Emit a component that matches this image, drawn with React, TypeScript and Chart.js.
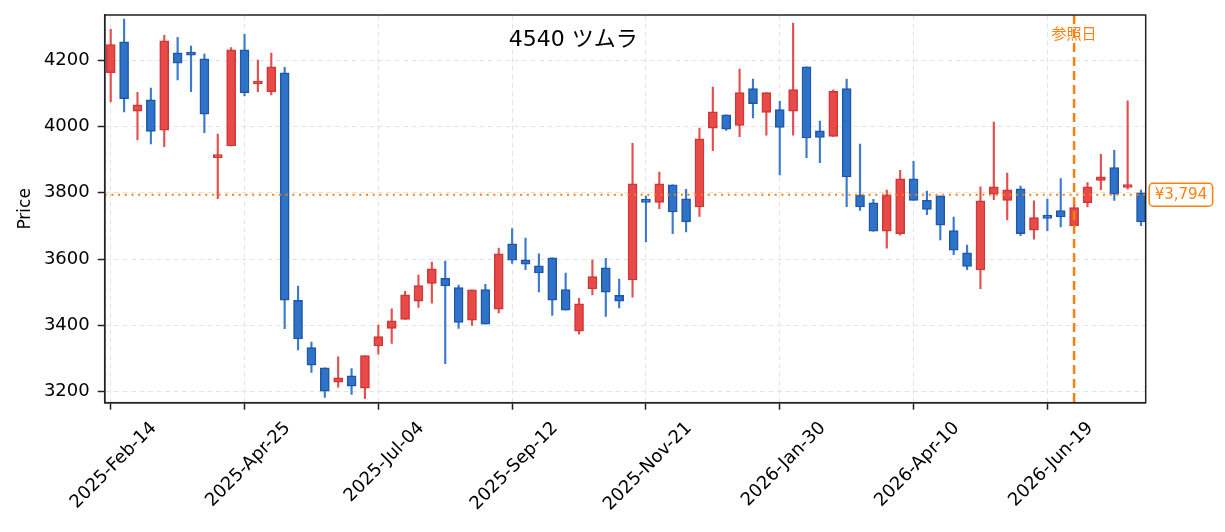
import { useEffect, useRef } from 'react';
import { Chart, registerables } from 'chart.js';

Chart.register(...registerables);

// weekly candles, index 0 = 2025-02-14
const opens = [
  4162, 4255, 4046, 4080, 3989, 4222, 4218, 4204, 3906, 3941,
  4231, 4128, 4104, 4162, 3476, 3333, 3272, 3229, 3248, 3211,
  3338, 3391, 3418, 3473, 3527, 3542, 3514, 3416, 3508, 3449,
  3646, 3598, 3580, 3604, 3508, 3383, 3510, 3574, 3491, 3537,
  3776, 3771, 3824, 3782, 3757, 3995, 4035, 4003, 4114, 4042,
  4051, 4046, 4180, 3987, 3970, 4114, 3793, 3770, 3684, 3677,
  3842, 3777, 3791, 3686, 3619, 3567, 3796, 3777, 3812, 3687,
  3731, 3746, 3700, 3770, 3837, 3876, 3816, 3800,
];
const highs = [
  4293, 4324, 4103, 4116, 4275, 4269, 4242, 4218, 3977, 4238,
  4278, 4200, 4221, 4178, 3519, 3350, 3272, 3305, 3270, 3309,
  3401, 3450, 3503, 3552, 3591, 3594, 3522, 3507, 3524, 3633,
  3692, 3663, 3616, 3604, 3558, 3482, 3597, 3602, 3540, 3949,
  3790, 3862, 3824, 3810, 3995, 4119, 4035, 4173, 4143, 4102,
  4076, 4312, 4180, 4016, 4110, 4143, 3947, 3780, 3808, 3868,
  3895, 3805, 3791, 3727, 3642, 3818, 4013, 3859, 3820, 3776,
  3781, 3843, 3765, 3831, 3916, 3928, 4077, 3808,
];
const lows = [
  4074, 4044, 3959, 3947, 3939, 4140, 4105, 3981, 3782, 3941,
  4092, 4105, 4095, 3390, 3326, 3258, 3183, 3214, 3192, 3179,
  3313, 3346, 3418, 3454, 3467, 3285, 3391, 3400, 3404, 3438,
  3587, 3568, 3501, 3430, 3446, 3374, 3492, 3427, 3453, 3485,
  3652, 3752, 3677, 3682, 3729, 3927, 3988, 3969, 4026, 3974,
  3854, 3974, 3906, 3891, 3970, 3758, 3747, 3684, 3633, 3672,
  3777, 3734, 3658, 3613, 3568, 3511, 3779, 3718, 3671, 3660,
  3686, 3697, 3695, 3757, 3809, 3777, 3811, 3701,
];
const closes = [
  4247, 4084, 4065, 3985, 4258, 4191, 4215, 4037, 3912, 4231,
  4102, 4136, 4180, 3476, 3359, 3280, 3202, 3242, 3217, 3309,
  3366, 3414, 3492, 3520, 3571, 3519, 3409, 3507, 3404, 3616,
  3597, 3585, 3558, 3476, 3446, 3465, 3547, 3500, 3473, 3827,
  3771, 3827, 3742, 3712, 3963, 4044, 3992, 4102, 4069, 4102,
  3997, 4111, 3965, 3967, 4106, 3848, 3757, 3684, 3794, 3842,
  3777, 3750, 3702, 3627, 3578, 3776, 3818, 3809, 3677, 3725,
  3723, 3727, 3755, 3818, 3848, 3796, 3819, 3712,
];

const tickWeeks = [0, 10, 20, 30, 40, 50, 60, 70];
const tickLabels = [
  '2025-Feb-14', '2025-Apr-25', '2025-Jul-04', '2025-Sep-12',
  '2025-Nov-21', '2026-Jan-30', '2026-Apr-10', '2026-Jun-19',
];
const priceTicks = [3200, 3400, 3600, 3800, 4000, 4200];

const refPrice = 3794;
const refWeek = 72;
const chartTitle = '4540 ツムラ';

const FONT = '"DejaVu Sans", "Noto Sans CJK JP", sans-serif';
const ORANGE = '#ff7f0e';

const overlay = {
  id: 'overlay',
  afterDatasetsDraw(chart: any) {
    const { ctx, chartArea: a, scales } = chart;
    const x = scales.x;
    const y = scales.y;
    ctx.save();

    // reference price (dotted)
    const py = y.getPixelForValue(refPrice);
    ctx.strokeStyle = ORANGE;
    ctx.lineWidth = 2;
    ctx.setLineDash([2, 4.7]);
    ctx.beginPath();
    ctx.moveTo(a.left, py);
    ctx.lineTo(a.right, py);
    ctx.stroke();

    // reference date (dashed)
    const px = x.getPixelForValue(refWeek);
    ctx.lineWidth = 2.5;
    ctx.setLineDash([9, 5]);
    ctx.beginPath();
    ctx.moveTo(px, a.top);
    ctx.lineTo(px, a.bottom);
    ctx.stroke();
    ctx.setLineDash([]);

    // frame
    ctx.strokeStyle = '#222';
    ctx.lineWidth = 1.5;
    ctx.strokeRect(a.left, a.top, a.right - a.left, a.bottom - a.top);

    // title
    ctx.fillStyle = '#000';
    ctx.font = `22px ${FONT}`;
    ctx.textAlign = 'center';
    ctx.textBaseline = 'middle';
    ctx.fillText(chartTitle, a.left + 0.45 * (a.right - a.left), a.top + 25);

    // 参照日
    ctx.fillStyle = ORANGE;
    ctx.font = `15px ${FONT}`;
    ctx.fillText('参照日', px, a.top + 20);

    // price tag
    const label = '¥' + refPrice.toLocaleString('en-US');
    ctx.font = `15px ${FONT}`;
    const w = ctx.measureText(label).width + 11;
    ctx.fillStyle = '#fff';
    ctx.strokeStyle = ORANGE;
    ctx.lineWidth = 1.5;
    ctx.beginPath();
    ctx.roundRect(a.right + 3.5, py - 11.5, w, 23, 4);
    ctx.fill();
    ctx.stroke();
    ctx.fillStyle = ORANGE;
    ctx.textAlign = 'left';
    ctx.fillText(label, a.right + 9, py + 0.5);

    ctx.restore();
  },
};

const CandleChart = () => {
  const chartRef = useRef<HTMLCanvasElement>(null);
  const chartInstance = useRef<Chart | null>(null);

  useEffect(() => {
    if (!chartRef.current) return;
    if (chartInstance.current) chartInstance.current.destroy();

    const up = closes.map((c, i) => c >= opens[i]);
    const bodies = opens.map((o, i) => ({ x: i, y: [o, closes[i]] }));
    const wicks = highs.map((h, i) => ({ x: i, y: [lows[i], h] }));

    const gridStyle = {
      color: '#e4e4e4',
      lineWidth: 1,
      tickLength: 7,
      tickColor: '#222',
      tickWidth: 1.5,
      tickBorderDash: [],
      offset: false,
    };
    const borderStyle = { color: '#222', width: 1.5, dash: [5, 3.5] };

    chartInstance.current = new Chart(chartRef.current, {
      type: 'bar',
      data: {
        datasets: [
          {
            data: wicks as any,
            backgroundColor: up.map((u) => (u ? '#e45050' : '#3a7bd0')),
            borderWidth: 0,
            barThickness: 1.5,
            grouped: false,
            order: 2,
          },
          {
            data: bodies as any,
            backgroundColor: up.map((u) => (u ? '#e84a4a' : '#2e73c8')),
            borderColor: up.map((u) => (u ? '#cf3636' : '#1e57a8')),
            borderWidth: 1.5,
            borderSkipped: false,
            barThickness: 9,
            minBarLength: 3,
            grouped: false,
            order: 1,
          },
        ],
      },
      options: {
        animation: false,
        responsive: true,
        maintainAspectRatio: false,
        layout: { padding: { top: 15, right: 79.3, left: 0, bottom: 0 } },
        plugins: {
          legend: { display: false },
          tooltip: { enabled: false },
        },
        scales: {
          x: {
            type: 'linear',
            min: -0.45,
            max: 77.35,
            offset: false,
            afterBuildTicks: (s: any) => {
              s.ticks = tickWeeks.map((v) => ({ value: v }));
            },
            afterFit: (s: any) => {
              s.height = 129.3;
              s.paddingLeft = 0;
              s.paddingRight = 0;
            },
            ticks: {
              autoSkip: false,
              minRotation: 45,
              maxRotation: 45,
              labelOffset: 43,
              padding: 8,
              color: '#000',
              font: { family: FONT, size: 18 },
              callback: (v: any) => tickLabels[tickWeeks.indexOf(Number(v))] ?? '',
            },
            grid: gridStyle,
            border: borderStyle,
          },
          y: {
            type: 'linear',
            min: 3167,
            max: 4336,
            afterBuildTicks: (s: any) => {
              s.ticks = priceTicks.map((v) => ({ value: v }));
            },
            afterFit: (s: any) => {
              s.width = 104.7;
              s.paddingTop = 0;
              s.paddingBottom = 0;
            },
            ticks: {
              padding: 8,
              color: '#000',
              font: { family: FONT, size: 18 },
              callback: (v: any) => String(v),
            },
            grid: gridStyle,
            border: borderStyle,
            title: {
              display: true,
              text: 'Price',
              color: '#000',
              font: { family: FONT, size: 17 },
              padding: { top: 15, bottom: 0 },
            },
          },
        },
      },
      plugins: [overlay],
    });

    return () => {
      if (chartInstance.current) {
        chartInstance.current.destroy();
        chartInstance.current = null;
      }
    };
  }, []);

  return (
    <div style={{ position: 'absolute', left: 0, top: 0, width: 1225, height: 532, background: '#fff' }}>
      <canvas ref={chartRef}></canvas>
    </div>
  );
};

export default function App() {
  return <CandleChart />;
}
